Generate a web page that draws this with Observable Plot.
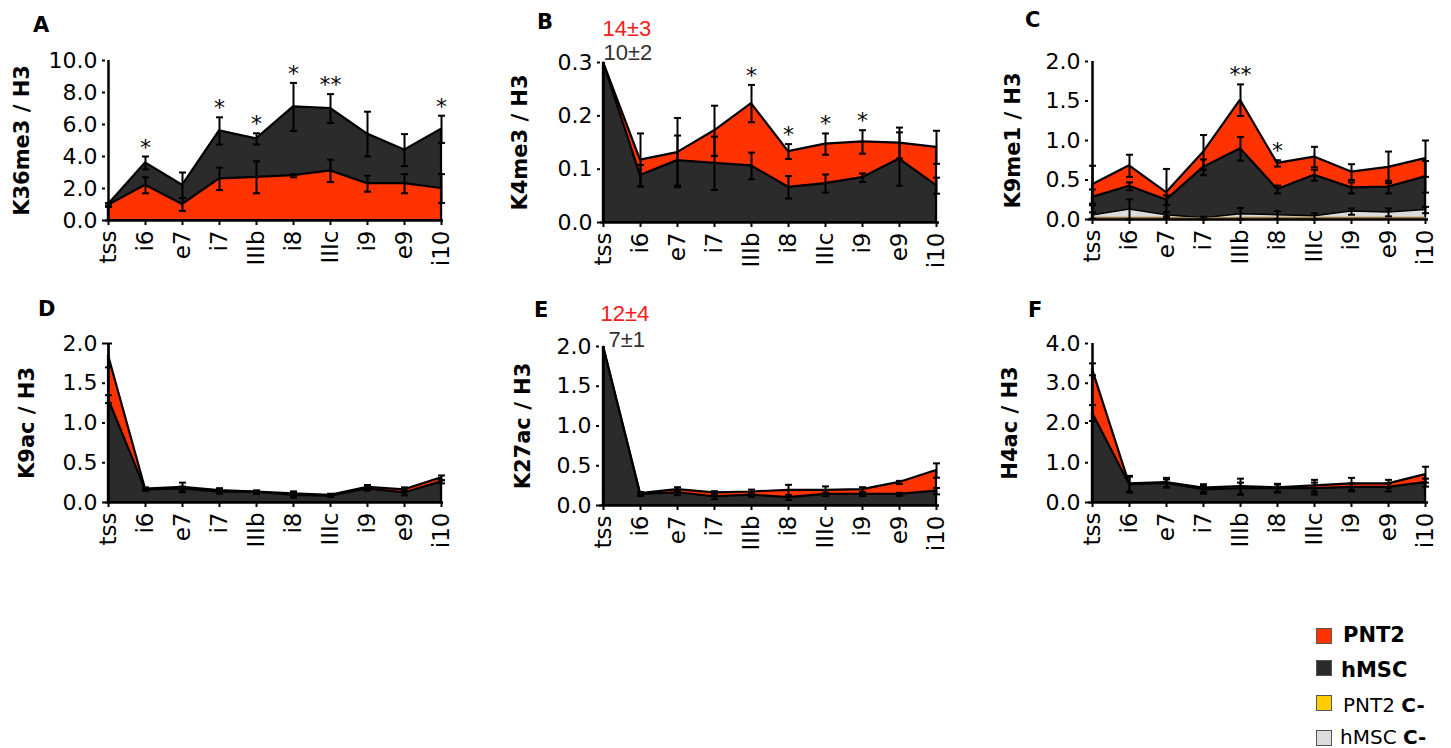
<!DOCTYPE html>
<html>
<head>
<meta charset="utf-8">
<script src="https://cdn.jsdelivr.net/npm/d3@7"></script>
<script src="https://cdn.jsdelivr.net/npm/@observablehq/plot@0.6"></script>
<style>
  html, body { margin: 0; padding: 0; background: #fff; }
  #root { position: relative; width: 1451px; height: 748px; overflow: hidden; font-family: "DejaVu Sans", sans-serif; }
  .panel { position: absolute; }
  .letter { position: absolute; font-weight: bold; font-size: 21px; line-height: 21px; color: #000; }
  .lg-box { position: absolute; width: 14px; height: 14px; border: 1px solid #555; }
  .lg-text { position: absolute; font-size: 20px; line-height: 20px; color: #000; white-space: nowrap; }
</style>
</head>
<body>
<div id="root"></div>
<script>
// ---------- data ----------
const categories = ["tss", "i6", "e7", "i7", "IIIb", "i8", "IIIc", "i9", "e9", "i10"];

// A: K36me3 / H3
const A_hMSC     = [1.0, 3.6, 2.2, 5.6, 5.1, 7.1, 7.0, 5.4, 4.4, 5.7];
const A_hMSC_err = [0.1, 0.4, 0.8, 0.85, 0.35, 1.5, 0.9, 1.4, 1.0, 0.85];
const A_PNT2     = [0.95, 2.2, 1.0, 2.6, 2.7, 2.8, 3.1, 2.3, 2.3, 2.0];
const A_PNT2_err = [0.1, 0.5, 0.4, 0.7, 1.0, 0.1, 0.7, 0.5, 0.6, 0.9];
const A_ticks = [0, 2, 4, 6, 8, 10];
const A_stars = [["i6", "*"], ["i7", "*"], ["IIIb", "*"], ["i8", "*"], ["IIIc", "**"], ["i10", "*"]];

// B: K4me3 / H3
const B_PNT2     = [0.3, 0.117, 0.131, 0.172, 0.223, 0.133, 0.147, 0.151, 0.149, 0.141];
const B_PNT2_err = [0, 0.05, 0.065, 0.047, 0.035, 0.014, 0.02, 0.022, 0.029, 0.031];
const B_hMSC     = [0.3, 0.088, 0.116, 0.111, 0.106, 0.066, 0.073, 0.084, 0.119, 0.069];
const B_hMSC_err = [0, 0.02, 0.047, 0.05, 0.025, 0.021, 0.017, 0.008, 0.05, 0.015];
const B_ticks = [0, 0.1, 0.2, 0.3];
const B_stars = [["IIIb", "*"], ["i8", "*"], ["IIIc", "*"], ["i9", "*"]];
const B_notes = ["14±3", "10±2"];

// C: K9me1 / H3
const C_PNT2        = [0.44, 0.68, 0.34, 0.85, 1.51, 0.71, 0.79, 0.60, 0.66, 0.77];
const C_PNT2_err    = [0.24, 0.14, 0.3, 0.22, 0.2, 0.04, 0.13, 0.1, 0.2, 0.23];
const C_hMSC        = [0.28, 0.42, 0.245, 0.66, 0.895, 0.38, 0.56, 0.40, 0.41, 0.54];
const C_hMSC_err    = [0.1, 0.05, 0.06, 0.1, 0.15, 0.05, 0.07, 0.07, 0.08, 0.2];
const C_hMSCneg     = [0.05, 0.125, 0.055, 0.015, 0.065, 0.055, 0.04, 0.10, 0.09, 0.12];
const C_hMSCneg_err = [0.04, 0.13, 0.04, 0.02, 0.08, 0.05, 0.04, 0.04, 0.05, 0.04];
const C_PNT2neg     = [0.02, 0.02, 0.02, 0.01, 0.02, 0.02, 0.02, 0.02, 0.02, 0.02];
const C_PNT2neg_err = [0, 0, 0, 0, 0, 0, 0, 0, 0, 0];
const C_ticks = [0, 0.5, 1, 1.5, 2];
const C_stars = [["IIIb", "**"], ["i8", "*"]];

// D: K9ac / H3
const D_PNT2     = [1.85, 0.17, 0.19, 0.15, 0.13, 0.11, 0.09, 0.19, 0.16, 0.31];
const D_PNT2_err = [0.15, 0.02, 0.06, 0.03, 0.02, 0.03, 0.02, 0.03, 0.03, 0.03];
const D_hMSC     = [1.3, 0.16, 0.17, 0.13, 0.13, 0.09, 0.08, 0.17, 0.12, 0.26];
const D_hMSC_err = [0.05, 0.01, 0.03, 0.02, 0.02, 0.03, 0.01, 0.02, 0.03, 0.02];
const D_ticks = [0, 0.5, 1, 1.5, 2];

// E: K27ac / H3
const E_PNT2     = [2.0, 0.15, 0.20, 0.16, 0.17, 0.19, 0.19, 0.20, 0.29, 0.44];
const E_PNT2_err = [0, 0.02, 0.03, 0.02, 0.03, 0.07, 0.05, 0.03, 0.02, 0.09];
const E_hMSC     = [2.0, 0.14, 0.16, 0.11, 0.13, 0.10, 0.14, 0.14, 0.14, 0.18];
const E_hMSC_err = [0, 0.02, 0.03, 0.03, 0.02, 0.03, 0.02, 0.02, 0.02, 0.04];
const E_ticks = [0, 0.5, 1, 1.5, 2];
const E_notes = ["12±4", "7±1"];

// F: H4ac / H3
const F_PNT2     = [3.35, 0.47, 0.50, 0.36, 0.40, 0.37, 0.42, 0.47, 0.47, 0.70];
const F_PNT2_err = [0.15, 0.2, 0.12, 0.1, 0.2, 0.1, 0.15, 0.15, 0.1, 0.2];
const F_hMSC     = [2.25, 0.45, 0.48, 0.32, 0.35, 0.35, 0.35, 0.38, 0.38, 0.50];
const F_hMSC_err = [0.2, 0.2, 0.1, 0.1, 0.15, 0.1, 0.15, 0.1, 0.1, 0.1];
const F_ticks = [0, 1, 2, 3, 4];

const legendLabels = ["PNT2", "hMSC", "PNT2 C-", "hMSC C-"];

// ---------- styles / layout ----------
const fillColor = { "PNT2": "#FF3300", "hMSC": "#2B2B2B", "PNT2 C-": "#FFCC00", "hMSC C-": "#DCDCDC" };
const lineColor = { "PNT2": "#000", "hMSC": "#000", "PNT2 C-": "#9a7a40", "hMSC C-": "#000" };
const FONT = "'DejaVu Sans', sans-serif";
const NOTE_FONT = "'Liberation Sans', Arial, sans-serif";

// horizontal cap symbol for error bars (half-width = r)
const capSymbol = {
  draw(context, size) {
    const w = Math.sqrt(size / Math.PI);
    context.moveTo(-w, 0);
    context.lineTo(w, 0);
  }
};

const panels = [
  { letter: "A", label: "K36me3 / H3", ticks: A_ticks, fmt: ".1f", stars: A_stars, notes: null,
    series: [["hMSC", A_hMSC, A_hMSC_err], ["PNT2", A_PNT2, A_PNT2_err]],
    box: { left: 0, top: 0, width: 480, height: 290 }, m: { l: 105, r: 37, t: 60, b: 70 }, labelDx: -83, letterPos: [33, 15] },
  { letter: "B", label: "K4me3 / H3", ticks: B_ticks, fmt: ".1f", stars: B_stars, notes: B_notes,
    series: [["PNT2", B_PNT2, B_PNT2_err], ["hMSC", B_hMSC, B_hMSC_err]],
    box: { left: 480, top: 0, width: 480, height: 290 }, m: { l: 120, r: 21, t: 62, b: 68 }, labelDx: -80, letterPos: [537, 12],
    notePos: [[2, -42], [3, -18]] },
  { letter: "C", label: "K9me1 / H3", ticks: C_ticks, fmt: ".1f", stars: C_stars, notes: null,
    series: [["PNT2", C_PNT2, C_PNT2_err], ["hMSC", C_hMSC, C_hMSC_err], ["hMSC C-", C_hMSCneg, C_hMSCneg_err], ["PNT2 C-", C_PNT2neg, C_PNT2neg_err]],
    box: { left: 960, top: 0, width: 491, height: 290 }, m: { l: 128, r: 23, t: 61, b: 71 }, labelDx: -75, letterPos: [1025, 10] },
  { letter: "D", label: "K9ac / H3", ticks: D_ticks, fmt: ".1f", stars: [], notes: null,
    series: [["PNT2", D_PNT2, D_PNT2_err], ["hMSC", D_hMSC, D_hMSC_err]],
    box: { left: 0, top: 290, width: 480, height: 270 }, m: { l: 105, r: 37, t: 53, b: 58 }, labelDx: -78, letterPos: [38, 299] },
  { letter: "E", label: "K27ac / H3", ticks: E_ticks, fmt: ".1f", stars: [], notes: E_notes,
    series: [["PNT2", E_PNT2, E_PNT2_err], ["hMSC", E_hMSC, E_hMSC_err]],
    box: { left: 480, top: 290, width: 480, height: 270 }, m: { l: 119, r: 21, t: 56, b: 55 }, labelDx: -76, letterPos: [534, 300],
    notePos: [[1, -41], [9, -15]] },
  { letter: "F", label: "H4ac / H3", ticks: F_ticks, fmt: ".1f", stars: [], notes: null,
    series: [["PNT2", F_PNT2, F_PNT2_err], ["hMSC", F_hMSC, F_hMSC_err]],
    box: { left: 960, top: 290, width: 491, height: 270 }, m: { l: 128, r: 23, t: 53, b: 58 }, labelDx: -78, letterPos: [1028, 300] }
];

const root = document.getElementById("root");

for (const p of panels) {
  const yMax = d3.max(p.ticks);
  // back-to-front: series with the larger total is drawn behind
  const ordered = p.series.map(([name, v, e]) => ({ name, v, e, sum: d3.sum(v) }))
    .sort((a, b) => b.sum - a.sum);

  const marks = [];
  for (const s of ordered) {
    const rows = categories.map((c, i) => ({ cat: c, v: s.v[i] }));
    marks.push(Plot.areaY(rows, { x: "cat", y: "v", fill: fillColor[s.name], fillOpacity: 1,
      stroke: lineColor[s.name], strokeWidth: s.name.endsWith("C-") ? 1.5 : 2.2, strokeLinejoin: "miter" }));
  }
  // error bars
  const errs = [];
  for (const s of ordered) {
    categories.forEach((c, i) => {
      if (s.e[i] > 0) errs.push({ cat: c, lo: Math.max(0, s.v[i] - s.e[i]), hi: Math.min(yMax, s.v[i] + s.e[i]) });
    });
  }
  marks.push(Plot.ruleX(errs, { x: "cat", y1: "lo", y2: "hi", stroke: "#000", strokeWidth: 2 }));
  marks.push(Plot.dot(errs, { x: "cat", y: "hi", symbol: capSymbol, r: 3.5, stroke: "#000", fill: "none", strokeWidth: 2 }));
  marks.push(Plot.dot(errs, { x: "cat", y: "lo", symbol: capSymbol, r: 3.5, stroke: "#000", fill: "none", strokeWidth: 2 }));

  // axes lines
  marks.push(Plot.ruleY([0], { stroke: "#000", strokeWidth: 2.5 }));
  marks.push(Plot.ruleX([categories[0]], { y1: 0, y2: yMax, stroke: "#000", strokeWidth: 2.5 }));
  marks.push(Plot.axisX({ tickRotate: -90, tickSize: 5, tickPadding: 5, strokeWidth: 2, fontSize: 23, fontFamily: FONT, label: null, fill: "#000" }));
  marks.push(Plot.axisY({ ticks: p.ticks, tickFormat: d3.format(p.fmt), tickSize: 3, tickPadding: 5, strokeWidth: 2, fontSize: 22, fontFamily: FONT, label: null, fill: "#000" }));

  // y label
  marks.push(Plot.text([p.label], { frameAnchor: "left", textAnchor: "middle", rotate: -90, dx: p.labelDx, fontSize: 21, fontFamily: FONT, fontWeight: "bold", fill: "#000" }));

  // significance stars
  if (p.stars.length) {
    const starRows = p.stars.map(([cat, txt]) => {
      const i = categories.indexOf(cat);
      const top = d3.max(p.series, ([, v, e]) => v[i] + e[i]);
      return { cat, top, txt };
    });
    marks.push(Plot.text(starRows, { x: "cat", y: "top", text: "txt", dy: -9, fontSize: 22, fontFamily: FONT, fill: "#000" }));
  }
  // off-scale annotations
  if (p.notes) {
    marks.push(Plot.text([p.notes[0]], { frameAnchor: "top-left", textAnchor: "start", dx: p.notePos[0][0], dy: p.notePos[0][1], fontSize: 22, fontFamily: NOTE_FONT, fill: "#F2201A" }));
    marks.push(Plot.text([p.notes[1]], { frameAnchor: "top-left", textAnchor: "start", dx: p.notePos[1][0], dy: p.notePos[1][1], fontSize: 22, fontFamily: NOTE_FONT, fill: "#333" }));
  }

  const chart = Plot.plot({
    width: p.box.width, height: p.box.height,
    marginLeft: p.m.l, marginRight: p.m.r, marginTop: p.m.t, marginBottom: p.m.b,
    x: { type: "point", domain: categories, padding: 0 },
    y: { domain: [0, yMax] },
    style: { fontFamily: FONT, fontSize: "21px", color: "#000", background: "transparent", overflow: "visible" },
    marks
  });
  const wrap = document.createElement("div");
  wrap.className = "panel";
  wrap.style.left = p.box.left + "px";
  wrap.style.top = p.box.top + "px";
  wrap.appendChild(chart);
  root.appendChild(wrap);

  const letter = document.createElement("div");
  letter.className = "letter";
  letter.textContent = p.letter;
  letter.style.left = p.letterPos[0] + "px";
  letter.style.top = p.letterPos[1] + "px";
  root.appendChild(letter);
}

// legend
const legendRows = [
  { box: [1316, 628], text: [1343, 625], bold: true },
  { box: [1316, 660], text: [1341, 660], bold: true },
  { box: [1316, 695], text: [1343, 695], bold: false },
  { box: [1316, 730], text: [1340, 727], bold: false }
];
legendLabels.forEach((name, i) => {
  const r = legendRows[i];
  const b = document.createElement("div");
  b.className = "lg-box";
  b.style.left = r.box[0] + "px"; b.style.top = r.box[1] + "px";
  b.style.background = fillColor[name];
  root.appendChild(b);
  const t = document.createElement("div");
  t.className = "lg-text";
  t.style.left = r.text[0] + "px"; t.style.top = r.text[1] + "px";
  if (r.bold) {
    t.style.fontWeight = "bold"; t.style.fontSize = "21px"; t.style.lineHeight = "21px";
    t.textContent = name;
  } else {
    const parts = name.split(" ");
    t.appendChild(document.createTextNode(parts[0] + " "));
    const bb = document.createElement("b");
    bb.textContent = parts[1];
    t.appendChild(bb);
  }
  root.appendChild(t);
});
</script>
</body>
</html>
